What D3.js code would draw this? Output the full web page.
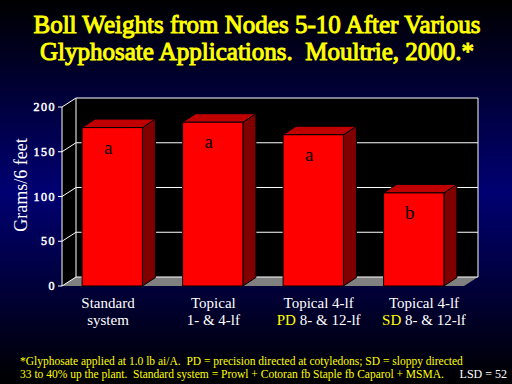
<!DOCTYPE html>
<html>
<head>
<meta charset="utf-8">
<script src="https://cdn.jsdelivr.net/npm/d3@7"></script>
<style>
  body { margin: 0; background: #000; }
  svg { display: block; }
  text { font-family: "Liberation Serif", "Times New Roman", serif; }
</style>
</head>
<body>
<svg id="chart" width="512" height="384"></svg>
<script>
// values
var categories = ["std", "top14", "pd", "sd"];
var labelLines = [
    [["Standard"], ["system"]],
    [["Topical"], ["1- & 4-lf"]],
    [["Topical 4-lf"], ["PD", " 8- & 12-lf"]],
    [["Topical 4-lf"], ["SD", " 8- & 12-lf"]]
];
var values = [177, 183, 169, 104];
var letters = ["a", "a", "a", "b"];
var yTicks = [0, 50, 100, 150, 200];
var titleLines = ["Boll Weights from Nodes 5-10 After Various",
                  "Glyphosate Applications.  Moultrie, 2000.*"];
var footLines = ["*Glyphosate applied at 1.0 lb ai/A.  PD = precision directed at cotyledons; SD = sloppy directed",
                 "33 to 40% up the plant.  Standard system = Prowl + Cotoran fb Staple fb Caparol + MSMA."];

var svg = d3.select("#chart"),
    width = +svg.attr("width"),
    height = +svg.attr("height");

var defs = svg.append("defs");
var grad = defs.append("linearGradient")
    .attr("id", "bg").attr("x1", 0).attr("y1", 0).attr("x2", 0).attr("y2", 1);
grad.append("stop").attr("offset", "0%").attr("stop-color", "#000000");
grad.append("stop").attr("offset", "50%").attr("stop-color", "#000072");
grad.append("stop").attr("offset", "100%").attr("stop-color", "#000000");
svg.append("rect").attr("width", width).attr("height", height).attr("fill", "url(#bg)");

// plot frame
var left = 62, right = 464, dx = 14, dy = -9, bdx = 13, bdy = -8.5;
var y = d3.scaleLinear().domain([0, 200]).range([286, 107]);
var x = d3.scaleBand().domain(categories).range([left, right])
    .paddingInner(0.4).paddingOuter(0.2);
var labelX = d3.scalePoint().domain(categories).range([108, 424]);

var y0 = y(0), yTop = y(200);
var pts = function(a) { return a.map(function(p) { return p.join(","); }).join(" "); };

// left wall and back wall
svg.append("polygon")
    .attr("points", pts([[left, yTop], [left + dx, yTop + dy], [left + dx, y0 + dy], [left, y0]]))
    .attr("fill", "#000");
svg.append("rect")
    .attr("x", left + dx).attr("y", yTop + dy)
    .attr("width", right - left).attr("height", y0 - yTop)
    .attr("fill", "#000");
// floor
svg.append("polygon")
    .attr("points", pts([[left, y0], [right, y0], [right + dx, y0 + dy], [left + dx, y0 + dy]]))
    .attr("fill", "#808080");

// gridlines
var grid = svg.append("g").attr("stroke", "#fff").attr("stroke-width", 1).attr("fill", "none");
yTicks.forEach(function(t) {
    var yy = y(t);
    grid.append("polyline")
        .attr("points", pts([[left, yy], [left + dx, yy + dy], [right + dx, yy + dy]]));
});
grid.append("line").attr("x1", left).attr("x2", left).attr("y1", yTop).attr("y2", y0);
grid.append("line").attr("x1", left + dx).attr("x2", left + dx).attr("y1", yTop + dy).attr("y2", y0 + dy);
grid.append("line").attr("x1", right + dx).attr("x2", right + dx).attr("y1", yTop + dy).attr("y2", y0 + dy);

// y ticks (bold faked with a thin stroke)
var yAxis = svg.append("g");
yTicks.forEach(function(t) {
    yAxis.append("line").attr("x1", left - 4).attr("x2", left)
        .attr("y1", y(t)).attr("y2", y(t)).attr("stroke", "#fff");
    yAxis.append("text")
        .attr("x", 56).attr("y", y(t) + 4)
        .attr("text-anchor", "end")
        .attr("fill", "#fff").attr("stroke", "#fff").attr("stroke-width", 0.5)
        .attr("font-size", 12).attr("letter-spacing", 1.5)
        .text(t);
});

svg.append("text")
    .attr("transform", "translate(27,185) rotate(-90)")
    .attr("text-anchor", "middle")
    .attr("fill", "#fff").attr("font-size", 18)
    .text("Grams/6 feet");

// bars
var bars = svg.append("g").selectAll("g").data(values).enter().append("g");
bars.each(function(v, i) {
    var g = d3.select(this),
        x0 = x(categories[i]), x1 = x0 + x.bandwidth(),
        yt = y(v);
    g.append("polygon")
        .attr("points", pts([[x1, yt], [x1 + bdx, yt + bdy], [x1 + bdx, y0 + bdy], [x1, y0]]))
        .attr("fill", "#800000").attr("stroke", "#000");
    g.append("polygon")
        .attr("points", pts([[x0, yt], [x0 + bdx, yt + bdy], [x1 + bdx, yt + bdy], [x1, yt]]))
        .attr("fill", "#c00000").attr("stroke", "#000");
    g.append("rect")
        .attr("x", x0).attr("y", yt).attr("width", x.bandwidth()).attr("height", y0 - yt)
        .attr("fill", "#ff0000").attr("stroke", "#000");
    g.append("text")
        .attr("x", x0 + x.bandwidth() / 2 - 4).attr("y", yt + 26)
        .attr("text-anchor", "middle")
        .attr("font-size", 19).attr("fill", "#000")
        .text(letters[i]);
});

// category labels
categories.forEach(function(c, i) {
    labelLines[i].forEach(function(parts, j) {
        var t = svg.append("text")
            .attr("x", labelX(c)).attr("y", 308 + j * 17)
            .attr("text-anchor", "middle")
            .attr("fill", "#fff").attr("font-size", 15);
        parts.forEach(function(p) {
            t.append("tspan")
                .attr("fill", (p === "PD" || p === "SD") ? "#ffff00" : "#fff")
                .text(p);
        });
    });
});

// title (serif bold faked with a stroke)
titleLines.forEach(function(line, i) {
    svg.append("text")
        .attr("x", width / 2 + 1).attr("y", 33 + i * 26.5)
        .attr("text-anchor", "middle")
        .attr("fill", "#ffff00").attr("stroke", "#ffff00").attr("stroke-width", 1)
        .attr("font-size", 25)
        .attr("xml:space", "preserve")
        .text(line);
});

// footnote
footLines.forEach(function(line, i) {
    svg.append("text")
        .attr("x", 20).attr("y", 365 + i * 12.5)
        .attr("fill", "#ffff00").attr("font-size", 11.5)
        .attr("xml:space", "preserve")
        .text(line);
});
svg.append("text")
    .attr("x", 507).attr("y", 377.5)
    .attr("text-anchor", "end")
    .attr("fill", "#fff").attr("font-size", 12)
    .text("LSD = 52");
</script>
</body>
</html>
